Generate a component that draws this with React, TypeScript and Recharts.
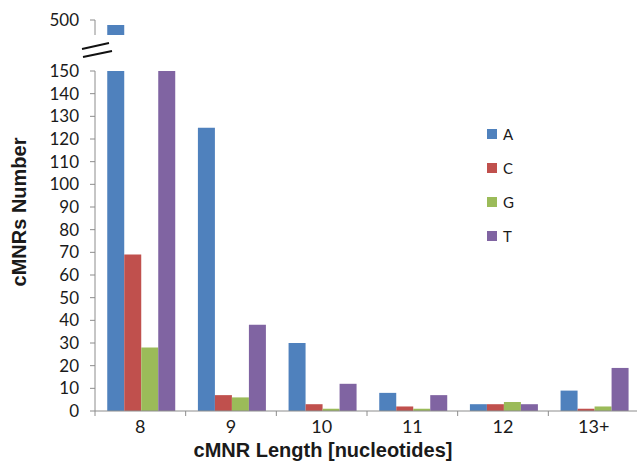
import { BarChart, Bar, XAxis, YAxis } from 'recharts';

// cMNR length categories and counts per nucleotide
const lengths = ['8', '9', '10', '11', '12', '13+'];
const countsA = [490, 125, 30, 8, 3, 9];
const countsC = [69, 7, 3, 2, 3, 1];
const countsG = [28, 6, 1, 1, 4, 2];
const countsT = [150, 38, 12, 7, 3, 19];
const yTicks = [0, 10, 20, 30, 40, 50, 60, 70, 80, 90, 100, 110, 120, 130, 140, 150];
const breakTicks = [500];

const series = [
  { key: 'A', color: '#4F81BD' },
  { key: 'C', color: '#C0504D' },
  { key: 'G', color: '#9BBB59' },
  { key: 'T', color: '#8064A2' },
];

const data = lengths.map((len, i) => ({
  len,
  A: countsA[i],
  C: countsC[i],
  G: countsG[i],
  T: countsT[i],
}));

// upper segment above the axis break only shows what exceeds 150
const topData = lengths.map((len, i) => ({
  len,
  A: countsA[i] > 150 ? countsA[i] : null,
  C: countsC[i] > 150 ? countsC[i] : null,
  G: countsG[i] > 150 ? countsG[i] : null,
  T: countsT[i] > 150 ? countsT[i] : null,
}));

const W = 640;
const Y_W = 95;
const PLOT_W = W - Y_W - 1;
const HALF_BAND = PLOT_W / lengths.length / 2;
const AXIS_GRAY = '#8c8c8c';
const TICK_FONT = 'Lato, "Open Sans", sans-serif';
const TITLE_FONT = '"Liberation Sans", Arial, sans-serif';

function XTick(props: any) {
  const { x, y, payload } = props;
  return (
    <g>
      <line x1={x - HALF_BAND} y1={y} x2={x - HALF_BAND} y2={y + 5} stroke={AXIS_GRAY} />
      <text
        x={x}
        y={y + 15}
        textAnchor="middle"
        dominantBaseline="central"
        fontSize={18}
        fontFamily={TICK_FONT}
        fill="#1a1a1a"
      >
        {payload.value}
      </text>
    </g>
  );
}

function LegendBox() {
  return (
    <div style={{ position: 'absolute', left: 487, top: 117, fontFamily: TICK_FONT, fontSize: 15, color: '#1a1a1a' }}>
      {series.map(s => (
        <div key={s.key} style={{ display: 'flex', alignItems: 'center', height: 34 }}>
          <span style={{ width: 10, height: 10, background: s.color, marginRight: 6 }} />
          <span>{s.key}</span>
        </div>
      ))}
    </div>
  );
}

export default function App() {
  return (
    <div style={{ position: 'absolute', left: 0, top: 0, width: 637, height: 461, overflow: 'hidden', background: '#fff' }}>
      <div style={{ position: 'absolute', left: 0, top: 0 }}>
        <BarChart width={W} height={461} data={data} margin={{ top: 71, right: 1, bottom: 0, left: 0 }} barCategoryGap="13.5%" barGap={0}>
          <XAxis
            dataKey="len"
            height={50}
            stroke={AXIS_GRAY}
            tickLine={false}
            tickSize={0}
            tickMargin={0}
            interval={0}
            tick={<XTick />}
            label={{
              content: (p: any) => {
                const vb = p.viewBox;
                return (
                  <text x={vb.x + vb.width / 2 - 44} y={457} textAnchor="middle" fontSize={20} fontWeight="bold" fontFamily={TITLE_FONT} fill="#1a1a1a">
                    cMNR Length [nucleotides]
                  </text>
                );
              },
            }}
          />
          <YAxis
            width={Y_W}
            domain={[0, 150]}
            ticks={yTicks}
            allowDataOverflow
            interval={0}
            stroke={AXIS_GRAY}
            tickSize={5}
            tickMargin={11}
            tick={{ fontSize: 17, fontFamily: TICK_FONT, fill: '#1a1a1a' }}
            label={{
              content: (p: any) => {
                const vb = p.viewBox;
                const cy = vb.y + vb.height / 2 - 29;
                return (
                  <text x={19} y={cy} transform={`rotate(-90 19 ${cy})`} textAnchor="middle" dominantBaseline="central" fontSize={20} fontWeight="bold" fontFamily={TITLE_FONT} fill="#1a1a1a">
                    cMNRs Number
                  </text>
                );
              },
            }}
          />
          {series.map(s => (
            <Bar key={s.key} dataKey={s.key} fill={s.color} isAnimationActive={false} />
          ))}
        </BarChart>
      </div>
      <div style={{ position: 'absolute', left: 0, top: 0 }}>
        <BarChart width={W} height={36} data={topData} margin={{ top: 20, right: 1, bottom: 1, left: 0 }} barCategoryGap="13.5%" barGap={0}>
          <XAxis dataKey="len" hide />
          <YAxis
            width={Y_W}
            domain={[470, 500]}
            ticks={breakTicks}
            allowDataOverflow
            stroke={AXIS_GRAY}
            tickSize={5}
            tickMargin={11}
            tick={{ fontSize: 17, fontFamily: TICK_FONT, fill: '#1a1a1a' }}
          />
          {series.map(s => (
            <Bar key={s.key} dataKey={s.key} fill={s.color} isAnimationActive={false} />
          ))}
        </BarChart>
      </div>
      <LegendBox />
      <svg width={637} height={461} style={{ position: 'absolute', left: 0, top: 0, pointerEvents: 'none' }}>
        <line x1={82} y1={49} x2={109} y2={43} stroke="#111" strokeWidth={2} />
        <line x1={83} y1={57} x2={112} y2={51} stroke="#111" strokeWidth={2} />
      </svg>
    </div>
  );
}
